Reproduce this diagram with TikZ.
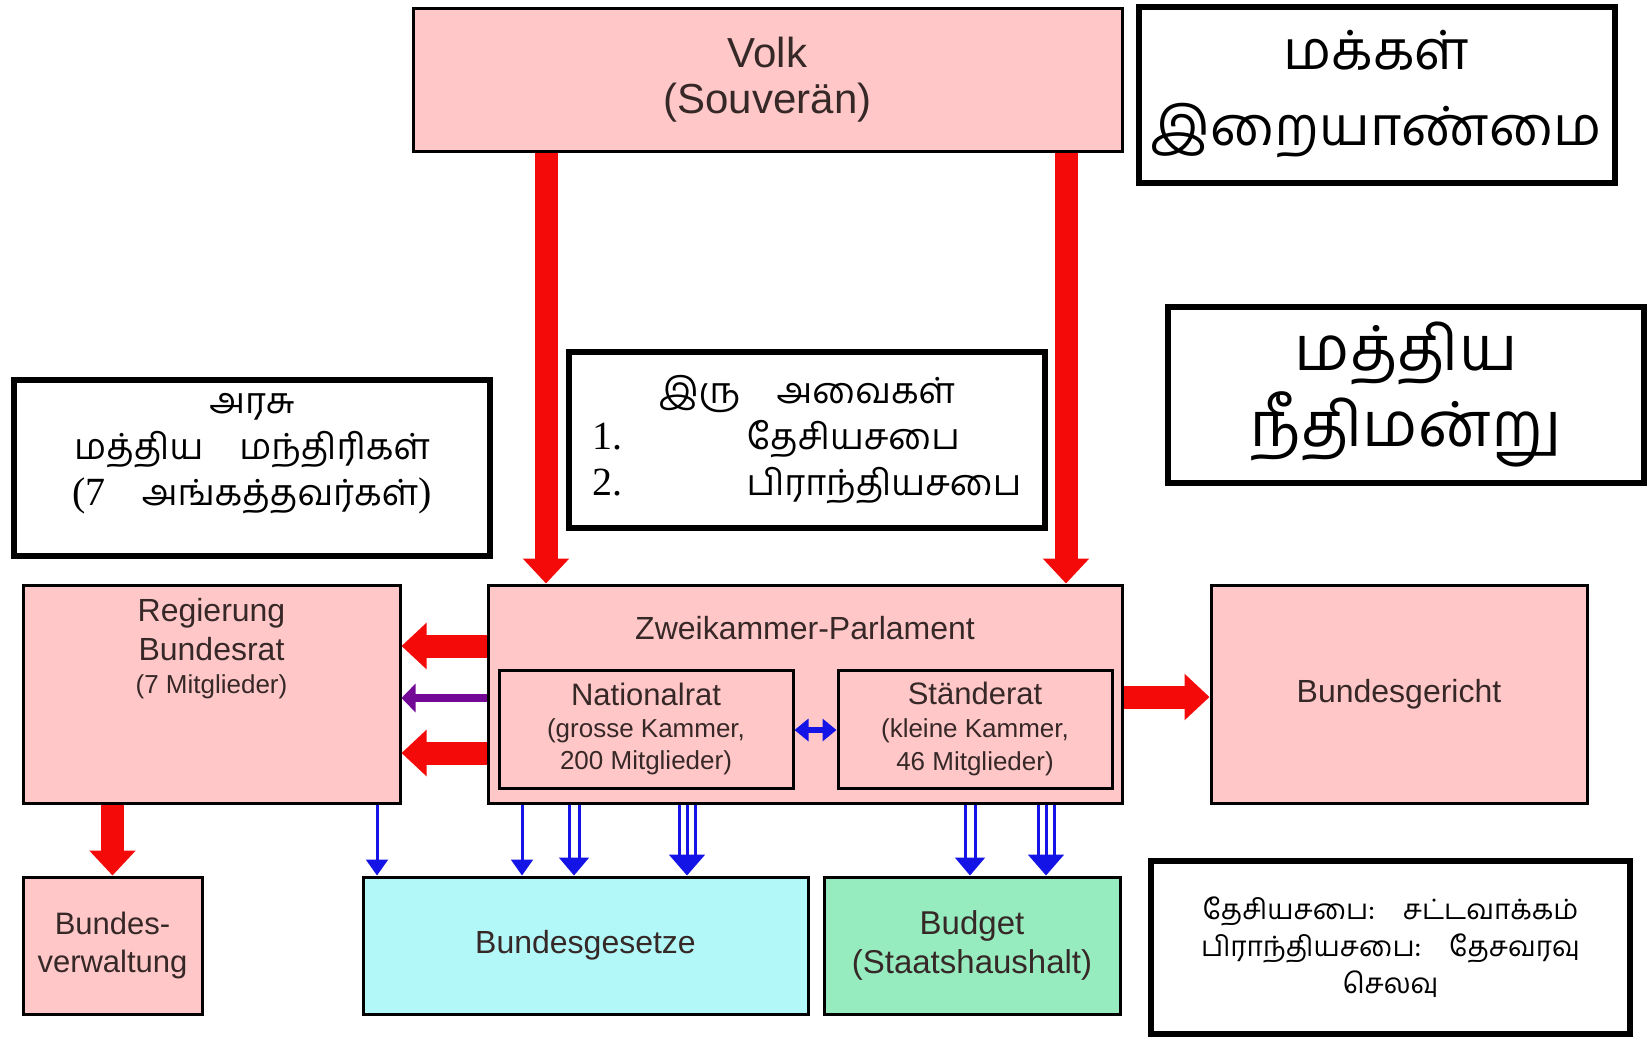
\documentclass[tikz,border=0pt]{standalone}
\usepackage{fontspec}
\setmainfont{Liberation Sans}
\newfontfamily\tamilfont[Script=Tamil]{Hind Madurai}
\newfontfamily\numfont{Liberation Serif}
\usepackage{tikz}
\usetikzlibrary{arrows.meta}
\definecolor{boxPink}{RGB}{255,199,199}
\definecolor{boxCyan}{RGB}{178,248,248}
\definecolor{boxMint}{RGB}{150,236,190}
\definecolor{arrowRed}{RGB}{245,10,10}
\definecolor{arrowBlue}{RGB}{20,20,230}
\definecolor{arrowPurple}{RGB}{115,10,150}
\definecolor{textBrown}{RGB}{55,40,40}

\begin{document}
\begin{tikzpicture}[
    x=0.5pt, y=-0.5pt,
    organ/.style={
        rectangle,
        draw=black,
        line width=1.5pt,
        fill=#1,
        text=textBrown,
        align=center,
        inner sep=0pt
    },
    organ/.default=boxPink,
    tambox/.style={
        rectangle,
        draw=black,
        line width=3pt,
        fill=white,
        align=center,
        minimum width=238pt,
        minimum height=88pt,
        inner sep=0pt
    },
    redarrow/.style={
        draw=arrowRed,
        line width=11.5pt,
        -{Triangle[length=12.5pt, width=22.5pt]}
    },
    purplearrow/.style={
        draw=arrowPurple,
        line width=4pt,
        -{Triangle[length=7pt, width=14pt]}
    },
    bluearrow/.style={draw=arrowBlue, line width=1.5pt},
    bluetip/.style 2 args={
        draw=white, line width=1pt, shorten <=1pt,
        -{Triangle[color=arrowBlue, fill=arrowBlue, length=#1, width=#2]}
    },
    chamberarrow/.style={
        draw=arrowBlue,
        line width=3pt,
        {Triangle[length=7pt, width=11pt]}-{Triangle[length=7pt, width=11pt]}
    }
]
    \useasboundingbox (0,0) rectangle (1652,1039);

    % Volk
    \node[organ, minimum width=354.5pt, minimum height=71.5pt, font=\fontsize{21}{23}\selectfont] (volk) at (767.5,79.5) {Volk\\(Souverän)};

    % Tamil notes
    \node[tambox, font=\tamilfont\fontsize{27}{38}\selectfont] (makkal) at (1376.5,94.5) {மக்கள்\\இறையாண்மை};
    \node[tambox, font=\tamilfont\fontsize{31}{38}\selectfont] (neethi) at (1406,395) {மத்திய\\நீதிமன்று};
    \node[tambox, label={[yshift=7pt, align=center, font=\tamilfont\fontsize{18}{23}\selectfont]center:அரசு\\மத்திய\quad மந்திரிகள்\\{\numfont\fontsize{20}{23}\selectfont(7}\quad அங்கத்தவர்கள்{\numfont\fontsize{20}{23}\selectfont)}}] (arasu) at (252,467.5) {};
    \node[tambox, font=\tamilfont\fontsize{18}{23}\selectfont] (avai) at (807,440) {%
        \begin{tabular}{@{}l@{\hspace{62pt}}l@{}}
            \multicolumn{2}{c}{இரு\quad அவைகள்}\\
            {\numfont\fontsize{20}{23}\selectfont 1.} & தேசியசபை\\
            {\numfont\fontsize{20}{23}\selectfont 2.} & பிராந்தியசபை
        \end{tabular}};
    \node[tambox, minimum width=239.5pt, minimum height=86.5pt, font=\tamilfont\fontsize{14}{18.5}\selectfont] (note) at (1390.5,947.5) {தேசியசபை:\quad சட்டவாக்கம்\\பிராந்தியசபை:\quad தேசவரவு\\செலவு};

    % Government, parliament, court
    \node[organ, minimum width=188.5pt, minimum height=109pt,
        label={[anchor=north, yshift=-7.3pt, inner sep=0pt, align=center, text=textBrown, font=\fontsize{16}{19.5}\selectfont]north:Regierung\\Bundesrat\\[-3pt]{\fontsize{13}{16}\selectfont(7 Mitglieder)}}] (reg) at (211.5,694) {};
    \node[organ, minimum width=317pt, minimum height=109pt,
        label={[anchor=north, yshift=-16.3pt, inner sep=0pt, text=textBrown, font=\fontsize{16}{19}\selectfont]north:Zweikammer-Parlament}] (parl) at (805,694) {};
    \node[organ, minimum width=147pt, minimum height=59pt, font=\fontsize{13}{16}\selectfont] (national) at (646,729) {{\fontsize{15.5}{17}\selectfont Nationalrat}\\(grosse Kammer,\\200 Mitglieder)};
    \node[organ, minimum width=137pt, minimum height=59pt, font=\fontsize{13}{16.5}\selectfont] (staende) at (975,729) {{\fontsize{15.5}{17}\selectfont Ständerat}\\(kleine Kammer,\\46 Mitglieder)};
    \node[organ, minimum width=188pt, minimum height=109pt, font=\fontsize{16}{19}\selectfont] (gericht) at (1399,694) {Bundesgericht};

    % Bottom row
    \node[organ, minimum width=89.5pt, minimum height=68.5pt, font=\fontsize{15.5}{19}\selectfont] (verw) at (112.5,945.5) {Bundes-\\verwaltung};
    \node[organ=boxCyan, minimum width=222.5pt, minimum height=68.5pt, font=\fontsize{16}{19}\selectfont] (gesetze) at (585.5,945.5) {Bundesgesetze};
    \node[organ=boxMint, minimum width=148pt, minimum height=68.5pt, font=\fontsize{16.5}{19.5}\selectfont] (budget) at (972,945.5) {Budget\\(Staatshaushalt)};

    % Red arrows
    \foreach \dx in {-110.75, 149.25} {
        \draw[redarrow] ([xshift=\dx pt]volk.south) -- ([xshift=\dx pt]volk.south |- parl.north);
    }
    \foreach \dy in {24, -29.5} {
        \draw[redarrow] ([yshift=\dy pt]parl.west) -- ([yshift=\dy pt]parl.west -| reg.east);
    }
    \draw[purplearrow] ([yshift=-2pt]parl.west) -- ([yshift=-2pt]parl.west -| reg.east);
    \draw[redarrow] ([yshift=-1.5pt]parl.east) -- ([yshift=-1.5pt]parl.east -| gericht.west);
    \draw[redarrow] (verw.north |- reg.south) -- (verw.north);

    % Blue arrows (single, double, triple)
    \foreach \src/\dx/\dst/\offs/\hl/\hw in {reg/82.75/gesetze/{0}/8/11,
            parl/-141.5/gesetze/{0}/8/11, parl/-115.5/gesetze/{-2.5,2.5}/9/15,
            parl/-59/gesetze/{-4,0,4}/10.5/18, parl/82.5/budget/{-2.5,2.5}/9/15,
            parl/120.5/budget/{-4,0,4}/10.5/18} {
        \draw[bluetip={\hl pt}{\hw pt}] ([xshift=\dx pt]\src.south) -- ([xshift=\dx pt]\src.south |- \dst.north);
        \foreach \o in \offs {
            \draw[bluearrow, shorten >=\hl pt] ([xshift=\dx pt, xshift=\o pt]\src.south) -- ([xshift=\dx pt, xshift=\o pt]\src.south |- \dst.north);
        }
    }
    \draw[chamberarrow] ([yshift=-0.5pt]national.east) -- ([yshift=-0.5pt]staende.west);

\end{tikzpicture}
\end{document}
